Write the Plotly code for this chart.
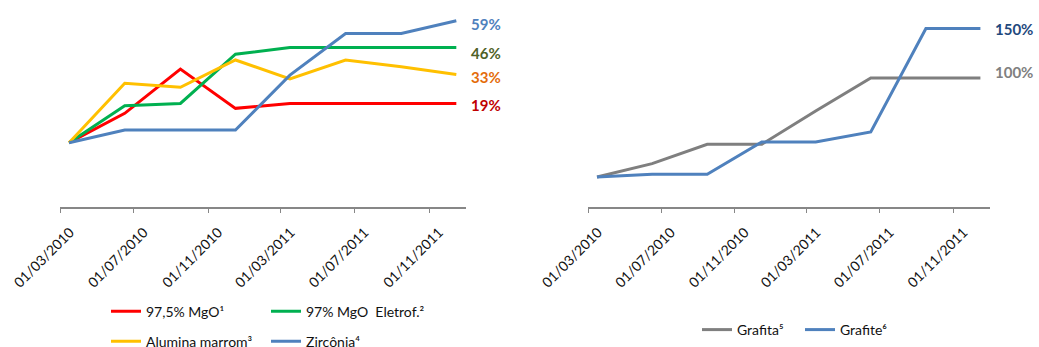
import plotly.graph_objects as go
from plotly.subplots import make_subplots

# ---- data ----
dates = ["2010-03-16", "2010-06-16", "2010-09-16", "2010-12-16",
         "2011-03-16", "2011-06-16", "2011-09-16", "2011-12-16"]

mgo_975 = [0, 14.2, 35.6, 16.6, 19, 19, 19, 19]
mgo_97_eletrof = [0, 17.9, 19.0, 42.8, 46, 46, 46, 46]
alumina_marrom = [0, 28.7, 26.8, 40, 30.8, 40, 36.7, 33]
zirconia = [0, 6.1, 6.1, 6.1, 32.7, 52.8, 52.8, 59]

grafita = [0, 13.5, 33, 33, 66.7, 100, 100, 100]
grafite = [0, 2.7, 2.7, 35.4, 35.4, 45.5, 150, 150]

left_names = ["97,5% MgO¹", "97% MgO  Eletrof.²", "Alumina marrom³", "Zircônia⁴"]
right_names = ["Grafita⁵", "Grafite⁶"]

left_labels = ["19%", "46%", "33%", "59%"]
right_labels = ["100%", "150%"]

# ---- styles ----
FONT = "Lato"
left_colors = ["#FF0000", "#00B050", "#FFC000", "#4F81BD"]
left_label_colors = ["#C00000", "#4F6228", "#E46C0A", "#4F81BD"]
left_label_shift = [-2, -5, -3, -3]
left_legend = ["legend", "legend", "legend2", "legend2"]
right_colors = ["#7F7F7F", "#4F81BD"]
right_label_colors = ["#808080", "#1F497D"]
right_label_shift = [6, 0]

W, H = 1039, 347
fig = make_subplots(rows=1, cols=2)

left_series = [mgo_975, mgo_97_eletrof, alumina_marrom, zirconia]
for i, ys in enumerate(left_series):
    fig.add_trace(go.Scatter(x=dates, y=ys, mode="lines", name=left_names[i],
                             line=dict(color=left_colors[i], width=3),
                             legend=left_legend[i]), row=1, col=1)
    fig.add_annotation(x=dates[-1], y=ys[-1], xref="x", yref="y",
                       text="<b>%s</b>" % left_labels[i], showarrow=False,
                       xanchor="left", yanchor="middle", xshift=13,
                       yshift=left_label_shift[i],
                       font=dict(family=FONT, size=15, color=left_label_colors[i]))

right_series = [grafita, grafite]
for i, ys in enumerate(right_series):
    fig.add_trace(go.Scatter(x=dates, y=ys, mode="lines", name=right_names[i],
                             line=dict(color=right_colors[i], width=3),
                             legend="legend3"), row=1, col=2)
    fig.add_annotation(x=dates[-1], y=ys[-1], xref="x2", yref="y2",
                       text="<b>%s</b>" % right_labels[i], showarrow=False,
                       xanchor="left", yanchor="middle", xshift=13,
                       yshift=right_label_shift[i],
                       font=dict(family=FONT, size=15, color=right_label_colors[i]))

xcommon = dict(type="date", tick0="2010-03-01", dtick="M4", tickformat="%d/%m/%Y",
               tickangle=-45, showgrid=False, zeroline=False,
               showline=True, linecolor="#878787", linewidth=1.5,
               ticks="outside", ticklen=4, tickcolor="#878787", tickwidth=1,
               ticklabelshift=10, ticklabelstandoff=6,
               tickfont=dict(family=FONT, size=14, color="#111111"))
ycommon = dict(showgrid=False, zeroline=False, showline=False,
               showticklabels=False, ticks="")

ydom = [(H - 207) / H, 1.0]
fig.update_layout(
    xaxis=dict(domain=[60 / W, 466 / W], range=["2010-03-01", "2012-01-01"], **xcommon),
    xaxis2=dict(domain=[588 / W, 990 / W], range=["2010-03-01", "2012-01-01"], **xcommon),
    yaxis=dict(domain=ydom, range=[-31.1, 69.0], **ycommon),
    yaxis2=dict(domain=ydom, range=[-30.3, 178.8], **ycommon),
)

legcommon = dict(orientation="h", xanchor="left", yanchor="middle",
                 font=dict(family=FONT, size=14, color="#111111"),
                 bgcolor="rgba(0,0,0,0)", borderwidth=0, entrywidth=115,
                 entrywidthmode="pixels", itemwidth=30)
fig.update_layout(
    legend=dict(x=106 / W, y=(H - 311.7) / H, **legcommon),
    legend2=dict(x=106 / W, y=(H - 341.7) / H, **legcommon),
    legend3=dict(x=697 / W, y=(H - 330) / H, **{**legcommon, "entrywidth": 58}),
    width=W, height=H,
    margin=dict(l=0, r=0, t=0, b=0, autoexpand=False),
    paper_bgcolor="white", plot_bgcolor="white",
    showlegend=True,
)

fig.write_html("out.html")
